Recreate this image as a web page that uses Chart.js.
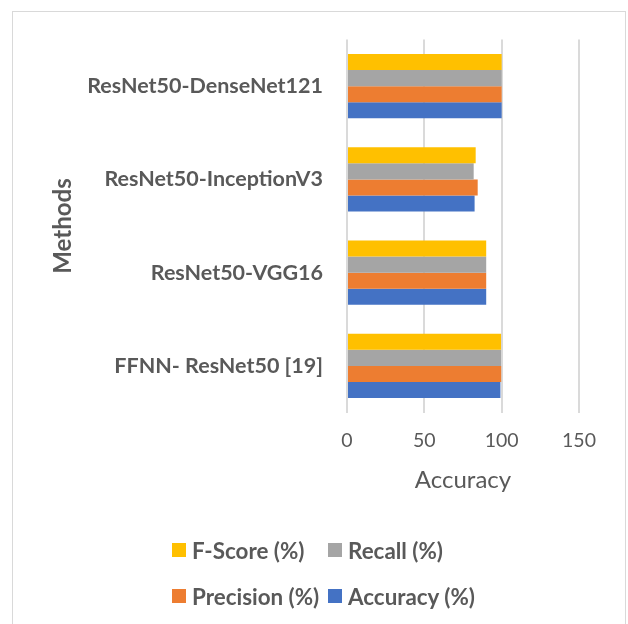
<!DOCTYPE html>
<html lang="en">
<head>
  <meta charset="UTF-8">
  <title>Accuracy by method</title>
  <script src="https://cdn.jsdelivr.net/npm/chart.js"></script>
  <style>
    html, body {
      margin: 0;
      padding: 0;
      background: #fff;
      overflow: hidden;
    }
    .frame {
      position: absolute;
      left: 12px;
      top: 11px;
      width: 612px;
      height: 640px;
      border: 1px solid #d9d9d9;
    }
    #chart {
      position: absolute;
      left: 0;
      top: 0;
    }
    #legend {
      position: absolute;
      left: 172px;
      top: 527px;
      display: grid;
      grid-template-columns: 156px auto;
      grid-auto-rows: 46px;
      font-family: Lato, 'Open Sans', sans-serif;
      font-weight: bold;
      font-size: 22.4px;
      color: #595959;
    }
    .item {
      display: flex;
      align-items: center;
      white-space: nowrap;
    }
    .item .box {
      width: 14px;
      height: 14px;
      margin-right: 6px;
    }
  </style>
</head>
<body>
  <div class="frame"></div>
  <canvas id="chart" width="628" height="624"></canvas>
  <div id="legend"></div>

  <script>
    const methods = ['ResNet50-DenseNet121', 'ResNet50-InceptionV3', 'ResNet50-VGG16', 'FFNN- ResNet50 [19]'];
    const fScore = [100, 83.2, 90, 99.6];
    const recall = [100, 81.9, 90, 99.6];
    const precision = [100, 84.5, 90, 99.7];
    const accuracy = [100, 82.5, 90, 99.2];
    const xTicks = [0, 50, 100, 150];

    const textColor = '#595959';
    const fontFamily = "Lato, 'Open Sans', sans-serif";

    // legend drawn as html so the items sit in two aligned columns
    const htmlLegend = {
      id: 'htmlLegend',
      afterUpdate(chart) {
        const box = document.getElementById('legend');
        box.innerHTML = '';
        const items = chart.options.plugins.legend.labels.generateLabels(chart);
        items.forEach(item => {
          const div = document.createElement('div');
          div.className = 'item';
          const sw = document.createElement('span');
          sw.className = 'box';
          sw.style.background = item.fillStyle;
          const txt = document.createElement('span');
          txt.textContent = item.text;
          div.appendChild(sw);
          div.appendChild(txt);
          box.appendChild(div);
        });
      }
    };

    new Chart(document.getElementById('chart'), {
      type: 'bar',
      data: {
        labels: methods,
        datasets: [
          { label: 'F-Score (%)', data: fScore, backgroundColor: '#FFC000' },
          { label: 'Recall (%)', data: recall, backgroundColor: '#A5A5A5' },
          { label: 'Precision (%)', data: precision, backgroundColor: '#ED7D31' },
          { label: 'Accuracy (%)', data: accuracy, backgroundColor: '#4472C4' }
        ]
      },
      options: {
        indexAxis: 'y',
        responsive: false,
        animation: false,
        datasets: {
          bar: { categoryPercentage: 0.69, barPercentage: 1 }
        },
        layout: {
          padding: { top: 39.5, left: 20, right: 49, bottom: 100 }
        },
        scales: {
          x: {
            min: xTicks[0],
            max: xTicks[xTicks.length - 1],
            ticks: {
              stepSize: xTicks[1] - xTicks[0],
              padding: 17,
              color: textColor,
              font: { family: fontFamily, size: 19.5 }
            },
            grid: { color: '#dadada', lineWidth: 2, drawTicks: false },
            border: { display: false },
            title: {
              display: true,
              text: 'Accuracy',
              color: textColor,
              font: { family: fontFamily, size: 24 },
              padding: { top: 10, bottom: 29.5 }
            },
            afterFit(scale) { scale.height = 111.5; }
          },
          y: {
            ticks: {
              padding: 16,
              color: textColor,
              font: { family: fontFamily, size: 21.5, weight: 'bold' }
            },
            grid: { display: false },
            border: { display: false },
            title: {
              display: true,
              text: 'Methods',
              color: textColor,
              font: { family: fontFamily, size: 24, weight: 'bold' },
              padding: { top: 28.6, bottom: 0 }
            },
            afterFit(scale) { scale.width = 327; }
          }
        },
        plugins: {
          legend: { display: false },
          tooltip: { enabled: false }
        }
      },
      plugins: [htmlLegend]
    });
  </script>
</body>
</html>
